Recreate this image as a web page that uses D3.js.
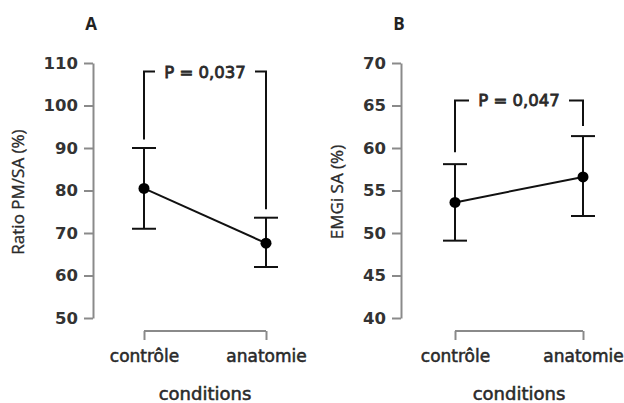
<!DOCTYPE html>
<html>
<head>
<meta charset="utf-8">
<script src="https://cdn.jsdelivr.net/npm/d3@7"></script>
<style>
  body { margin: 0; background: #fff; }
  text { fill: #222; }
</style>
</head>
<body>
<div id="chart"></div>
<script>
var w = 624, h = 403;

// data
var conditions = ["contrôle", "anatomie"];
var ratioMean = [80.5, 67.6];
var ratioLow = [71, 62];
var ratioHigh = [90, 73.6];
var ratioTicks = [50, 60, 70, 80, 90, 100, 110];
var emgMean = [53.6, 56.6];
var emgLow = [49.1, 52.0];
var emgHigh = [58.1, 61.4];
var emgTicks = [40, 45, 50, 55, 60, 65, 70];
var pRatio = "P = 0,037", pEmg = "P = 0,047";
var bracketRatio = [92, 108, 75.6];   // left leg end, top, right leg end
var bracketEmg = [59.5, 65.6, 62.6];

var svg = d3.select("#chart").append("svg")
  .attr("width", w).attr("height", h);

// a thin stroke makes the text a little heavier, like the blurred original
function heavy(sel) {
  sel.style("fill", "#2a2a2a").style("stroke", "#2a2a2a").style("stroke-width", 0.55);
}

function panel(o) {
  var g = svg.append("g");
  var y = d3.scaleLinear().domain([o.ticks[0], o.ticks[o.ticks.length - 1]]).range([318, 63]);
  var x = d3.scalePoint().domain(conditions).range(o.xr);

  // y axis
  var ya = g.append("g").attr("transform", "translate(" + o.ax + ",0)")
    .call(d3.axisLeft(y).tickValues(o.ticks).tickSize(9).tickPadding(6).tickSizeOuter(0));
  ya.select(".domain").attr("stroke", "#8a8a8a").attr("stroke-width", 2);
  ya.selectAll(".tick line").attr("stroke", "#8a8a8a").attr("stroke-width", 2);
  ya.selectAll(".tick text").attr("font-family", "DejaVu Sans").attr("font-size", 16.5)
    .attr("font-weight", "bold").style("fill", "#333");

  // x axis
  var xa = g.append("g").attr("transform", "translate(0,331)")
    .call(d3.axisBottom(x).tickSize(9).tickPadding(10).tickSizeOuter(0));
  xa.select(".domain").attr("stroke", "#8a8a8a").attr("stroke-width", 2)
    .attr("d", "M" + o.xr[0] + ",0H" + o.xr[1]);
  xa.selectAll(".tick line").attr("stroke", "#8a8a8a").attr("stroke-width", 2);
  xa.selectAll(".tick text").attr("font-family", "DejaVu Sans").attr("font-size", 17)
    .call(heavy);

  g.append("text").attr("x", (o.xr[0] + o.xr[1]) / 2).attr("y", 400)
    .attr("text-anchor", "middle").attr("font-family", "DejaVu Sans").attr("font-size", 18)
    .call(heavy).text("conditions");

  g.append("text").attr("transform", "translate(" + o.tx + ",192) rotate(-90)")
    .attr("text-anchor", "middle").attr("font-family", "Open Sans").attr("font-size", 17)
    .call(heavy).style("stroke-width", 0.35).text(o.title);

  g.append("text").attr("x", o.ax - 2).attr("y", 30).attr("text-anchor", "middle")
    .attr("font-family", "Open Sans").attr("font-weight", "bold").attr("font-size", 17)
    .text(o.letter);

  // significance bracket
  var mid = (o.xr[0] + o.xr[1]) / 2;
  var b = o.bracket;
  g.append("path").attr("fill", "none").attr("stroke", "#111").attr("stroke-width", 2)
    .attr("d", "M" + x(conditions[0]) + "," + y(b[0]) + "V" + y(b[1]) + "H" + (mid - 50));
  g.append("path").attr("fill", "none").attr("stroke", "#111").attr("stroke-width", 2)
    .attr("d", "M" + (mid + 50) + "," + y(b[1]) + "H" + x(conditions[1]) + "V" + y(b[2]));
  g.append("text").attr("x", mid).attr("y", y(b[1]) + 6).attr("text-anchor", "middle")
    .attr("font-family", "DejaVu Sans").attr("font-size", 16.5)
    .call(heavy).style("stroke-width", 0.8).text(o.p);

  var data = conditions.map(function(c, i) {
    return { c: c, m: o.mean[i], lo: o.low[i], hi: o.high[i] };
  });

  // error bars
  var eb = g.selectAll(".eb").data(data).enter().append("g").attr("class", "eb")
    .attr("stroke", "#111").attr("stroke-width", 2);
  eb.append("line").attr("x1", function(d) { return x(d.c); }).attr("x2", function(d) { return x(d.c); })
    .attr("y1", function(d) { return y(d.lo); }).attr("y2", function(d) { return y(d.hi); });
  eb.append("line").attr("x1", function(d) { return x(d.c) - 12; }).attr("x2", function(d) { return x(d.c) + 12; })
    .attr("y1", function(d) { return y(d.hi); }).attr("y2", function(d) { return y(d.hi); });
  eb.append("line").attr("x1", function(d) { return x(d.c) - 12; }).attr("x2", function(d) { return x(d.c) + 12; })
    .attr("y1", function(d) { return y(d.lo); }).attr("y2", function(d) { return y(d.lo); });

  g.append("path").datum(data).attr("fill", "none").attr("stroke", "#111").attr("stroke-width", 2)
    .attr("d", d3.line().x(function(d) { return x(d.c); }).y(function(d) { return y(d.m); }));

  g.selectAll(".pt").data(data).enter().append("circle").attr("class", "pt")
    .attr("cx", function(d) { return x(d.c); }).attr("cy", function(d) { return y(d.m); })
    .attr("r", 5.5).attr("fill", "#000");
}

panel({ ticks: ratioTicks, xr: [144, 266], ax: 93, tx: 24, title: "Ratio PM/SA (%)", letter: "A",
  mean: ratioMean, low: ratioLow, high: ratioHigh, bracket: bracketRatio, p: pRatio });
panel({ ticks: emgTicks, xr: [455, 583], ax: 401, tx: 343, title: "EMGi SA (%)", letter: "B",
  mean: emgMean, low: emgLow, high: emgHigh, bracket: bracketEmg, p: pEmg });
</script>
</body>
</html>
